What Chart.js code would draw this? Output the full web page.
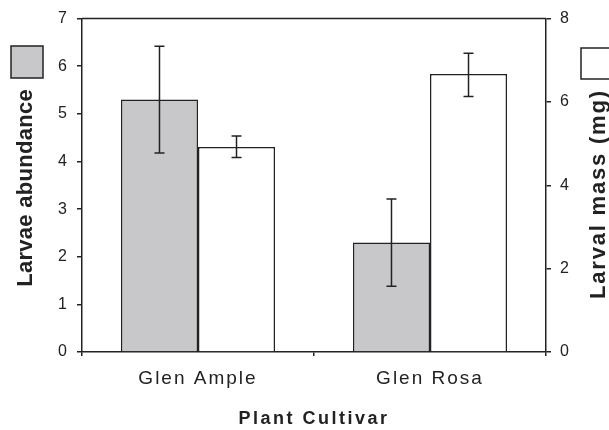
<!DOCTYPE html>
<html>
<head>
<meta charset="utf-8">
<script src="https://cdn.jsdelivr.net/npm/chart.js@4"></script>
<style>
  html, body { margin: 0; padding: 0; background: #fff; }
  #wrap { width: 609px; height: 430px; }
</style>
</head>
<body>
<div id="wrap"><canvas id="myChart" width="609" height="430"></canvas></div>
<script>
// values
const cultivars = ['Glen Ample', 'Glen Rosa'];
const abundance = [5.3, 2.3];
const abundanceLow = [4.18, 1.38];
const abundanceHigh = [6.42, 3.21];
const mass = [4.92, 6.67];
const massLow = [4.67, 6.13];
const massHigh = [5.18, 7.17];
const leftTicks = [0, 1, 2, 3, 4, 5, 6, 7];
const rightTicks = [0, 2, 4, 6, 8];

const FONT = '"Liberation Sans", Arial, sans-serif';
const INK = '#222';

function vtitle(ctx, text, x, y, spacing) {
  ctx.save();
  ctx.fillStyle = INK;
  ctx.font = 'bold 22px ' + FONT;
  ctx.letterSpacing = spacing + 'px';
  ctx.textAlign = 'center';
  ctx.textBaseline = 'middle';
  ctx.translate(x, y);
  ctx.rotate(-Math.PI / 2);
  ctx.fillText(text, spacing / 2, 0);
  ctx.restore();
}

// error bars, top frame line, legend boxes and titles
const extras = {
  id: 'extras',
  beforeDraw(chart) {
    chart.ctx.letterSpacing = '2px';
  },
  afterDatasetsDraw(chart) {
    const ctx = chart.ctx;
    const errs = [[abundanceLow, abundanceHigh, 'y'], [massLow, massHigh, 'y2']];
    ctx.save();
    ctx.strokeStyle = INK;
    ctx.lineWidth = 1.5;
    errs.forEach((e, di) => {
      const meta = chart.getDatasetMeta(di);
      const sc = chart.scales[e[2]];
      meta.data.forEach((bar, i) => {
        const x = bar.x;
        const y1 = sc.getPixelForValue(e[0][i]);
        const y2 = sc.getPixelForValue(e[1][i]);
        ctx.beginPath();
        ctx.moveTo(x, y1); ctx.lineTo(x, y2);
        ctx.moveTo(x - 5, y1); ctx.lineTo(x + 5, y1);
        ctx.moveTo(x - 5, y2); ctx.lineTo(x + 5, y2);
        ctx.stroke();
      });
    });
    ctx.restore();
  },
  afterDraw(chart) {
    const ctx = chart.ctx;
    const a = chart.chartArea;
    ctx.save();
    ctx.strokeStyle = INK;
    ctx.lineWidth = 1.5;
    ctx.beginPath();
    ctx.moveTo(a.left, a.top); ctx.lineTo(a.right, a.top);
    ctx.stroke();

    // legend boxes
    ctx.fillStyle = '#c8c8ca';
    ctx.fillRect(11, 46, 32, 32);
    ctx.strokeRect(11, 46, 32, 32);
    ctx.fillStyle = '#fff';
    ctx.fillRect(581, 48, 40, 31);
    ctx.strokeRect(581, 48, 40, 31);

    // x title
    ctx.fillStyle = INK;
    ctx.font = 'bold 18px ' + FONT;
    ctx.letterSpacing = '2.5px';
    ctx.textAlign = 'center';
    ctx.textBaseline = 'middle';
    ctx.fillText('Plant Cultivar', 314, 419);
    ctx.restore();

    vtitle(ctx, 'Larvae abundance', 26, 188, 0.3);
    vtitle(ctx, 'Larval mass (mg)', 599, 195, 1.8);
    ctx.letterSpacing = '0px';
  }
};

new Chart(document.getElementById('myChart').getContext('2d'), {
  type: 'bar',
  data: {
    labels: cultivars,
    datasets: [
      {
        label: 'Larvae abundance',
        data: abundance,
        yAxisID: 'y',
        backgroundColor: '#c8c8ca',
        borderColor: INK,
        borderWidth: 1.5,
        categoryPercentage: 0.664,
        barPercentage: 1.0,
      },
      {
        label: 'Larval mass (mg)',
        data: mass,
        yAxisID: 'y2',
        backgroundColor: '#ffffff',
        borderColor: INK,
        borderWidth: 1.5,
        categoryPercentage: 0.664,
        barPercentage: 1.0,
      },
    ],
  },
  options: {
    responsive: false,
    animation: false,
    layout: { padding: { top: 18, left: 0, right: 0, bottom: 0 } },
    plugins: { legend: { display: false }, tooltip: { enabled: false } },
    scales: {
      x: {
        afterFit: (s) => { s.height = 78; },
        grid: { display: true, drawOnChartArea: false, tickLength: 4, color: INK, lineWidth: 1.5 },
        border: { color: INK, width: 1.5 },
        ticks: { color: INK, font: { family: FONT, size: 19 }, padding: 11 },
      },
      y: {
        position: 'left',
        min: 0,
        max: 7,
        afterFit: (s) => { s.width = 82; },
        afterBuildTicks: (s) => { s.ticks = leftTicks.map(v => ({ value: v })); },
        grid: { drawOnChartArea: false, tickLength: 5, color: INK, lineWidth: 1.5 },
        border: { color: INK, width: 1.5 },
        ticks: { color: INK, font: { family: FONT, size: 16 }, padding: 8 },
      },
      y2: {
        position: 'right',
        min: 0,
        max: 8,
        afterFit: (s) => { s.width = 63; },
        afterBuildTicks: (s) => { s.ticks = rightTicks.map(v => ({ value: v })); },
        grid: { drawOnChartArea: false, tickLength: 5, color: INK, lineWidth: 1.5 },
        border: { color: INK, width: 1.5 },
        ticks: { color: INK, font: { family: FONT, size: 16 }, padding: 9 },
      },
    },
  },
  plugins: [extras],
});
</script>
</body>
</html>
